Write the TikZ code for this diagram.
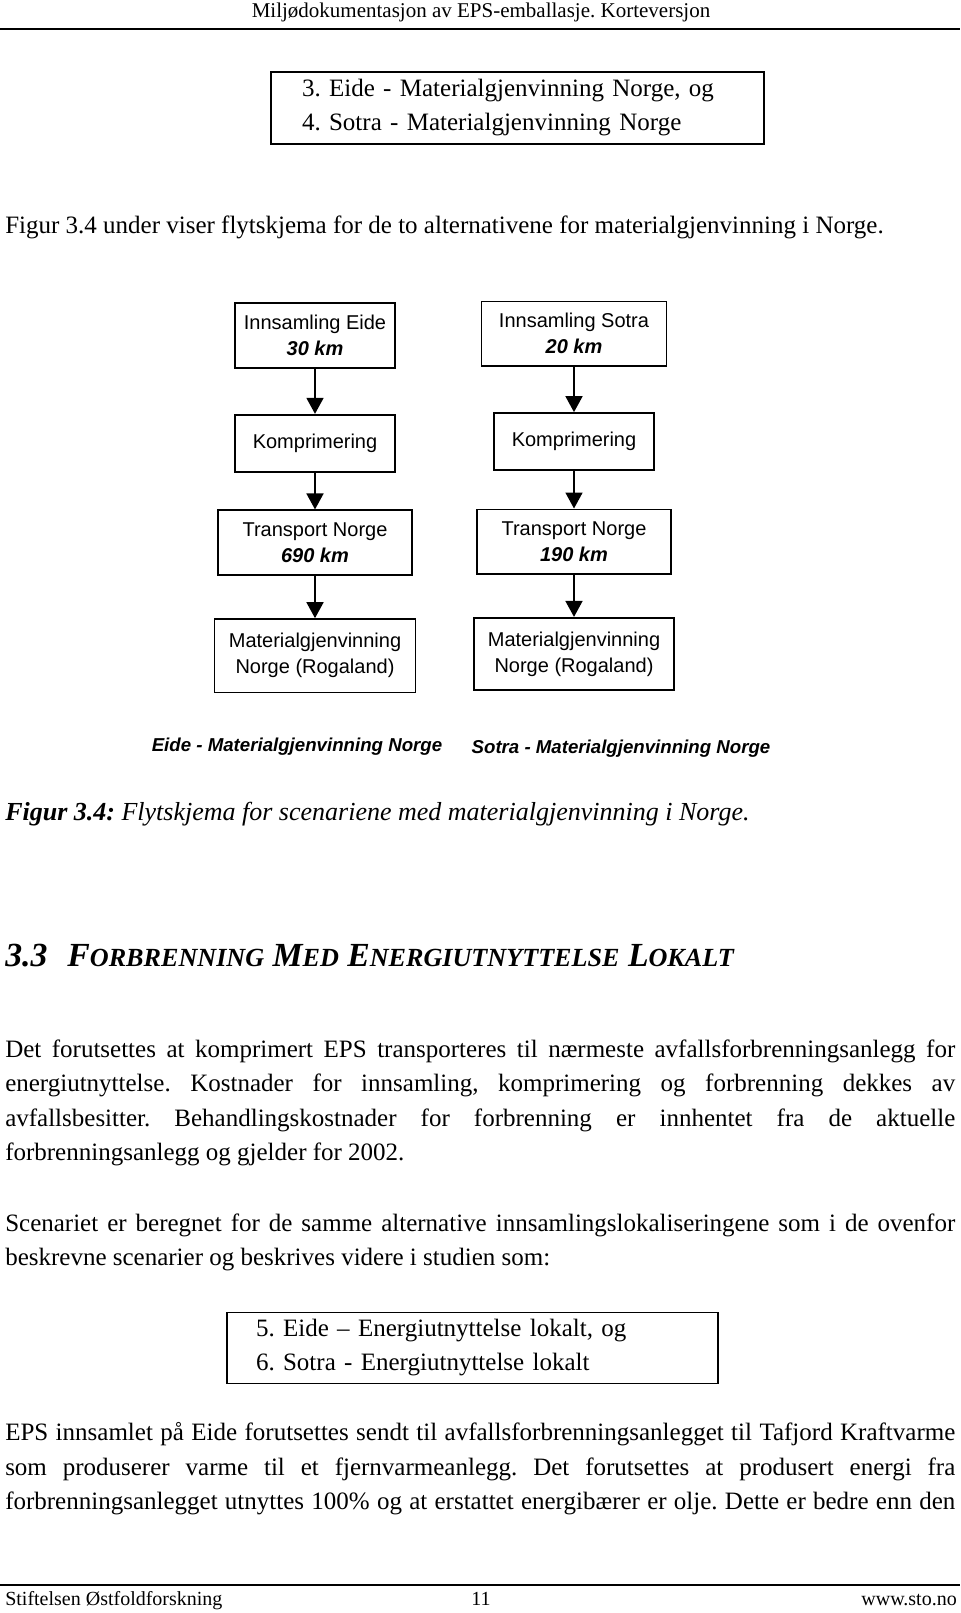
\documentclass[tikz,border=0pt]{standalone}
\usepackage{fontspec}
\setmainfont{Liberation Serif}
\newfontfamily\arialfont{Liberation Sans}
\usetikzlibrary{arrows.meta}
\frenchspacing

\begin{document}
\begin{tikzpicture}[x=0.75pt,y=0.75pt,yscale=-1,xscale=1,
  txt/.style={anchor=base west,inner sep=0pt,font=\fontsize{18.75}{24}\selectfont},
  flowbox/.style={draw,line width=1.3pt,align=center,inner sep=0pt,font=\arialfont\fontsize{15}{19.5}\selectfont},
  flow/.style={line width=1.3pt,-{Triangle[width=12.75pt,length=12pt]}},
  listbox/.style={draw,line width=1pt,align=left,inner ysep=0pt,font=\fontsize{18.75}{25.5}\selectfont},
  rule/.style={line width=1pt}]
\useasboundingbox (0,0) rectangle (960,1613);

% header
\node[anchor=base,inner sep=0pt,font=\fontsize{15.75}{18}\selectfont] (head) at (481,17.5) {Miljødokumentasjon av EPS-emballasje. Korteversjon};
\draw[rule] (0,29) -- (960,29);

% scenario list 3 and 4
\node[listbox,minimum width=369.75pt,minimum height=54pt,text width=323.25pt,inner xsep=23.25pt] (listA) at (517.5,108) {3. Eide - Materialgjenvinning Norge, og\\4. Sotra - Materialgjenvinning Norge};

\node[txt] (intro) at (5,233.3) {Figur 3.4 under viser flytskjema for de to alternativene for materialgjenvinning i Norge.};

% flow chart, Eide
\node[flowbox,minimum width=120pt,minimum height=48.75pt] (eide1) at (315,335.2) {Innsamling Eide\\\textbf{\textit{30 km}}};
\node[flowbox,minimum width=120pt,minimum height=42.75pt] (eide2) at (315,443.2) {Komprimering};
\node[flowbox,minimum width=145.7pt,minimum height=48.75pt] (eide3) at (315,542.8) {Transport Norge\\\textbf{\textit{690 km}}};
\node[flowbox,minimum width=150.6pt,minimum height=55pt] (eide4) at (315,655.7) {Materialgjenvinning\\Norge (Rogaland)};

% flow chart, Sotra
\node[flowbox,minimum width=138.75pt,minimum height=48.5pt] (sotra1) at (574,333.7) {Innsamling Sotra\\\textbf{\textit{20 km}}};
\node[flowbox,minimum width=120pt,minimum height=42.75pt] (sotra2) at (574,441.5) {Komprimering};
\node[flowbox,minimum width=146pt,minimum height=48.5pt] (sotra3) at (574,541.7) {Transport Norge\\\textbf{\textit{190 km}}};
\node[flowbox,minimum width=150pt,minimum height=54.2pt] (sotra4) at (574,653.9) {Materialgjenvinning\\Norge (Rogaland)};

\draw[flow] (eide1) -- (eide2);
\draw[flow] (eide2) -- (eide3);
\draw[flow] (eide3) -- (eide4);
\draw[flow] (sotra1) -- (sotra2);
\draw[flow] (sotra2) -- (sotra3);
\draw[flow] (sotra3) -- (sotra4);

\node[anchor=base,inner sep=0pt,font=\arialfont\bfseries\itshape\fontsize{14}{17}\selectfont] (eideLbl) at (297,751.7) {Eide - Materialgjenvinning Norge};
\node[anchor=base,inner sep=0pt,font=\arialfont\bfseries\itshape\fontsize{14}{17}\selectfont] (sotraLbl) at (621,753) {Sotra - Materialgjenvinning Norge};

% caption
\node[txt,font=\fontsize{19.5}{24}\selectfont] (caption) at (5,820) {\itshape\textbf{Figur 3.4:} Flytskjema for scenariene med materialgjenvinning i Norge.};

% section heading
\node[txt,font=\bfseries\itshape\fontsize{25.3}{28}\selectfont] (sec) at (5,966.7) {3.3\hspace{15pt}F{\fontsize{19.6}{28}\selectfont ORBRENNING} M{\fontsize{19.6}{28}\selectfont ED} E{\fontsize{19.6}{28}\selectfont NERGIUTNYTTELSE} L{\fontsize{19.6}{28}\selectfont OKALT}};

% paragraphs
\node[txt] (p1a) at (5,1057) {\makebox[712.5pt][s]{Det forutsettes at komprimert EPS transporteres til nærmeste avfallsforbrenningsanlegg for}};
\node[txt] (p1b) at (5,1091.5) {\makebox[712.5pt][s]{energiutnyttelse. Kostnader for innsamling, komprimering og forbrenning dekkes av}};
\node[txt] (p1c) at (5,1126) {\makebox[712.5pt][s]{avfallsbesitter. Behandlingskostnader for forbrenning er innhentet fra de aktuelle}};
\node[txt] (p1d) at (5,1160.5) {forbrenningsanlegg og gjelder for 2002.};

\node[txt] (p2a) at (5,1231.7) {\makebox[712.5pt][s]{Scenariet er beregnet for de samme alternative innsamlingslokaliseringene som i de ovenfor}};
\node[txt] (p2b) at (5,1265.5) {beskrevne scenarier og beskrives videre i studien som:};

% scenario list 5 and 6
\node[listbox,minimum width=368.25pt,minimum height=53.25pt,text width=324.75pt,inner xsep=21.75pt] (listB) at (472.5,1347.8) {5. Eide -- Energiutnyttelse lokalt, og\\6. Sotra - Energiutnyttelse lokalt};

\node[txt] (p3a) at (5,1440) {\makebox[712.5pt][s]{EPS innsamlet på Eide forutsettes sendt til avfallsforbrenningsanlegget til Tafjord Kraftvarme}};
\node[txt] (p3b) at (5,1475) {\makebox[712.5pt][s]{som produserer varme til et fjernvarmeanlegg. Det forutsettes at produsert energi fra}};
\node[txt] (p3c) at (5,1509.5) {\makebox[712.5pt][s]{forbrenningsanlegget utnyttes 100\% og at erstattet energibærer er olje. Dette er bedre enn den}};

% footer
\draw[rule] (0,1585) -- (960,1585);
\node[txt,font=\fontsize{15}{18}\selectfont] (foot) at (5,1605) {Stiftelsen Østfoldforskning};
\node[anchor=base,inner sep=0pt,font=\fontsize{15}{18}\selectfont] (page) at (481,1605) {11};
\node[anchor=base east,inner sep=0pt,font=\fontsize{15}{18}\selectfont] (web) at (957,1605) {www.sto.no};
\end{tikzpicture}
\end{document}
